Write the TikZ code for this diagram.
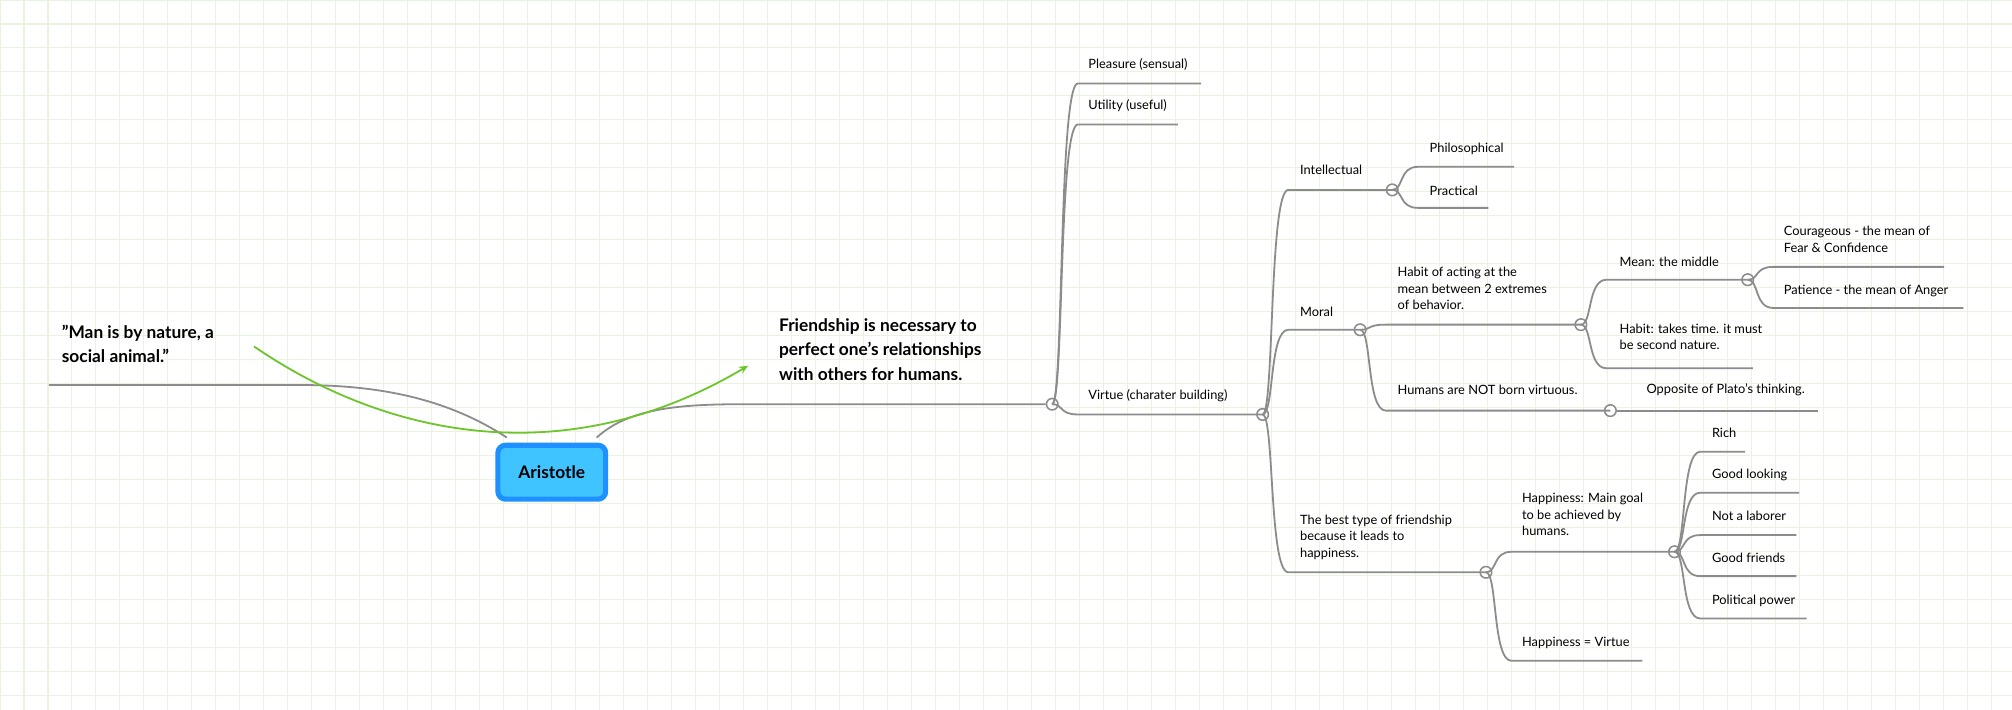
\documentclass[tikz,border=0pt]{standalone}
\usepackage{fontspec}
\setmainfont{Lato}
\usetikzlibrary{calc,arrows.meta}
\definecolor{ln}{HTML}{8C8C8C}
\definecolor{gridc}{HTML}{EAF3DE}
\definecolor{blueo}{HTML}{1E90FF}
\definecolor{bluei}{HTML}{40C4FF}
\definecolor{grn}{HTML}{6CC52A}
\begin{document}
\begin{tikzpicture}[x=1pt,y=-1pt,
  ln/.style={draw=ln,line width=1.4pt},
  dot/.style={circle,draw=ln,line width=1.2pt,fill=white,inner sep=0pt,minimum size=9pt},
  t/.style={font=\fontsize{10}{13}\selectfont,anchor=west,inner sep=0pt,align=left},
  tb/.style={font=\fontsize{13.5}{19}\selectfont\bfseries,anchor=north west,inner sep=0pt,align=left},
  br/.style 2 args={}]
\newcommand\brn[2]{\draw[ln] let \p1=(#1),\p2=(#2) in (\p1) .. controls (\x1+9pt,\y1) and (\x1+5pt,\y2) .. (\x1+20pt,\y2) -- (\p2);}
\useasboundingbox (0,0) rectangle (1568,553);
\fill[white] (0,0) rectangle (1568,553);
\foreach \i in {0,...,84} \draw[gridc,line width=0.8pt] (\i*18.7,0) -- (\i*18.7,553);
\foreach \j in {0,...,30} \draw[gridc,line width=0.8pt] (0,\j*18.7) -- (1568,\j*18.7);

% root
\node[draw=blueo,line width=4pt,fill=bluei,rounded corners=6pt,minimum width=84pt,minimum height=42pt,font=\fontsize{13.5}{16}\selectfont\bfseries] (root) at (430,368) {Aristotle};
\coordinate (lend) at (38,300);
\coordinate (rstart) at (465,341);
\coordinate (lstart) at (395,341);
\node[dot] (fr) at (820,315) {};
\draw[ln] (lstart) .. controls (340,305) and (280,300) .. (230,300) -- (lend);
\draw[ln] (rstart) .. controls (490,318) and (530,315) .. (580,315) -- (fr);
\node[tb] (man) at (48,253) {"Man is by nature, a\\social animal."};
\node[tb] (fri) at (607,248) {Friendship is necessary to\\perfect one's relationships\\with others for humans.};
\coordinate (g1) at (198,270);
\coordinate (g2) at (583,285);
\draw[grn,line width=1.4pt,-{Stealth[length=7pt,width=6pt]}] (g1) .. controls (300,340) and (440,370) .. (g2);

% friendship children
\coordinate (e1) at (936,65); \brn{fr}{e1}
\coordinate (e2) at (918,97); \brn{fr}{e2}
\node[dot] (vir) at (984,323) {};
\brn{fr}{vir}
\node[t] at (848,50) {Pleasure (sensual)};
\node[t] at (848,82) {Utility (useful)};
\node[t] at (848,308) {Virtue (charater building)};

% virtue children
\node[dot] (int) at (1085,148) {};
\node[dot] (mor) at (1060,257) {};
\node[dot] (best) at (1158,446) {};
\brn{vir}{int} \brn{vir}{mor} \brn{vir}{best}
\node[t] at (1013,132) {Intellectual};
\node[t] at (1013,243) {Moral};
\node[t,anchor=north west] at (1013,401) {The best type of friendship\\because it leads to\\happiness.};

% intellectual
\coordinate (e3) at (1180,130); \brn{int}{e3}
\coordinate (e4) at (1160,162); \brn{int}{e4}
\node[t] at (1114,116) {Philosophical};
\node[t] at (1114,149) {Practical};

% moral
\node[dot] (hab) at (1232,253) {};
\node[dot] (hum) at (1255,320) {};
\brn{mor}{hab} \brn{mor}{hum}
\node[t,anchor=north west] at (1089,208) {Habit of acting at the\\mean between 2 extremes\\of behavior.};
\node[t] at (1089,304) {Humans are NOT born virtuous.};
\coordinate (e5) at (1417,320); \draw[ln] (hum) -- (e5);
\node[t] at (1283,304) {Opposite of Plato's thinking.};

% habit
\node[dot] (mean) at (1362,218) {};
\brn{hab}{mean}
\coordinate (e6) at (1366,287); \brn{hab}{e6}
\node[t] at (1262,204) {Mean: the middle};
\node[t,anchor=north west] at (1262,252) {Habit: takes time. it must\\be second nature.};
\coordinate (e7) at (1515,208); \brn{mean}{e7}
\coordinate (e8) at (1530,240); \brn{mean}{e8}
\node[t,anchor=north west] at (1390,176) {Courageous - the mean of\\Fear \& Confidence};
\node[t] at (1390,227) {Patience - the mean of Anger};

% happiness
\node[dot] (goal) at (1305,430) {};
\brn{best}{goal}
\coordinate (e9) at (1280,515); \brn{best}{e9}
\node[t,anchor=north west] at (1186,384) {Happiness: Main goal\\to be achieved by\\humans.};
\node[t] at (1186,501) {Happiness = Virtue};
\coordinate (f1) at (1360,352); \brn{goal}{f1}
\coordinate (f2) at (1402,384); \brn{goal}{f2}
\coordinate (f3) at (1400,417); \brn{goal}{f3}
\coordinate (f4) at (1400,449); \brn{goal}{f4}
\coordinate (f5) at (1408,482); \brn{goal}{f5}
\node[t] at (1334,337) {Rich};
\node[t] at (1334,370) {Good looking};
\node[t] at (1334,402) {Not a laborer};
\node[t] at (1334,435) {Good friends};
\node[t] at (1334,468) {Political power};
\end{tikzpicture}
\end{document}
